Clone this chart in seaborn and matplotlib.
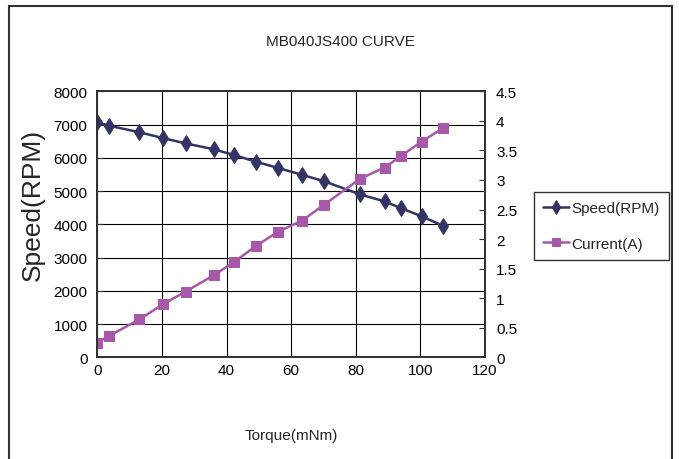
import matplotlib
matplotlib.use("Agg")
import matplotlib.pyplot as plt
import seaborn as sns
import pandas as pd
from matplotlib.patches import Rectangle

torque = [0, 3.6, 13.0, 20.4, 27.3, 36.1, 42.3, 49.0, 55.8, 63.3, 70.2, 81.3, 88.9, 93.9, 100.4, 107.1]
speed = [7070, 6965, 6770, 6590, 6435, 6255, 6085, 5885, 5700, 5490, 5295, 4900, 4690, 4490, 4240, 3950]
current = [0.25, 0.36, 0.64, 0.90, 1.11, 1.39, 1.61, 1.88, 2.12, 2.31, 2.58, 3.02, 3.21, 3.40, 3.65, 3.88]

title = "MB040JS400 CURVE"
xlabel = "Torque(mNm)"
ylabel = "Speed(RPM)"
speed_label = "Speed(RPM)"
current_label = "Current(A)"
xticks = [0, 20, 40, 60, 80, 100, 120]
yticks_left = [0, 1000, 2000, 3000, 4000, 5000, 6000, 7000, 8000]
yticks_right = [0, 0.5, 1, 1.5, 2, 2.5, 3, 3.5, 4, 4.5]
yticklabels_right = ["0", "0.5", "1", "1.5", "2", "2.5", "3", "3.5", "4", "4.5"]

sns.set_style("white")
plt.rcParams['font.family'] = ['Liberation Sans', 'DejaVu Sans']

df = pd.DataFrame({"torque": torque, "speed": speed, "current": current})

fig = plt.figure(figsize=(6.79, 4.60), dpi=100)
ax = fig.add_axes([97.3/679, 1-358.3/460, (485-97.3)/679, (358.3-92.3)/460])
ax2 = ax.twinx()

speed_color = "#333366"
current_color = "#A858A8"

sns.lineplot(data=df, x="torque", y="speed", ax=ax, color=speed_color, marker="d",
             markersize=8.5, markeredgecolor=speed_color, linewidth=1.8, label=speed_label, legend=False)
sns.lineplot(data=df, x="torque", y="current", ax=ax2, color=current_color, marker="s",
             markersize=6.5, markeredgecolor=current_color, linewidth=1.8, label=current_label, legend=False)

ax.set_xlim(0, 120)
ax.set_ylim(0, 8000)
ax2.set_ylim(0, 4.5)
ax.set_xticks(xticks)
ax.set_yticks(yticks_left)
ax2.set_yticks(yticks_right)
ax2.set_yticklabels(yticklabels_right)

ax.grid(True, color="black", linewidth=0.8)
ax2.grid(False)
ax.set_axisbelow(True)

for a in (ax, ax2):
    for s in a.spines.values():
        s.set_color("#333333")
        s.set_linewidth(1.4)
        s.set_visible(True)

ax.tick_params(axis="both", direction="in", length=4, labelsize=11, colors="#333333", labelcolor="black")
ax.tick_params(axis="y", pad=7)
ax.tick_params(axis="x", pad=4)
ax2.tick_params(axis="y", direction="in", length=4, labelsize=11, pad=8, colors="#333333", labelcolor="black")

ax.set_xlabel(xlabel, fontsize=11, labelpad=37)
ax.set_ylabel(ylabel, fontsize=19)
ax.yaxis.set_label_coords((45 - 97.3) / 387.7, (358.3 - 205) / 266)
ax2.set_ylabel("")

fig.text(340/679, 1-42/460, title, ha="center", va="center", fontsize=11)

h1, l1 = ax.get_legend_handles_labels()
h2, l2 = ax2.get_legend_handles_labels()
leg = fig.legend(h1 + h2, l1 + l2, loc="upper left", bbox_to_anchor=(534/679, 1-193/460),
                 fontsize=11, frameon=True, fancybox=False, framealpha=1,
                 edgecolor="#333333", borderpad=0.6, borderaxespad=0, handlelength=1.7,
                 handletextpad=0.15, labelspacing=1.4, markerscale=0.8)
leg.get_frame().set_linewidth(1.0)

fig.patches.append(Rectangle((8.7/679, -0.02), (672-8.7)/679, 0.02 + 1-6.5/460,
                             transform=fig.transFigure, fill=False, edgecolor="#333333",
                             linewidth=1.5, figure=fig))

fig.savefig("out.png", dpi=100)
